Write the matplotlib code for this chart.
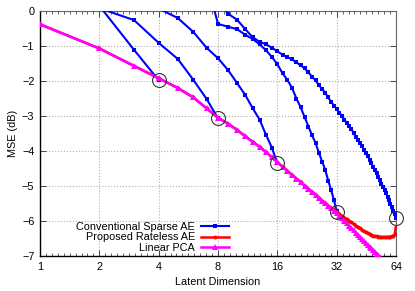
import matplotlib
matplotlib.use('Agg')
import matplotlib.pyplot as plt
from matplotlib.ticker import FixedLocator, NullFormatter

plt.rcParams['font.family'] = ['Liberation Sans', 'DejaVu Sans']
plt.rcParams['font.size'] = 7.8

# Linear PCA, dims 1..64
pca_dims = list(range(1, 65))
pca_mse = [-0.38, -1.07, -1.57, -1.92, -2.20, -2.47, -2.78, -3.05, -3.22, -3.40,
           -3.58, -3.74, -3.88, -4.03, -4.18, -4.32, -4.45, -4.57, -4.68, -4.79,
           -4.89, -4.99, -5.08, -5.17, -5.25, -5.34, -5.42, -5.49, -5.57, -5.64,
           -5.70, -5.77, -5.85, -5.92, -5.99, -6.06, -6.13, -6.20, -6.26, -6.33,
           -6.39, -6.45, -6.51, -6.57, -6.62, -6.68, -6.73, -6.78, -6.83, -6.88,
           -6.93, -6.98, -7.03, -7.08, -7.12, -7.16, -7.20, -7.24, -7.28, -7.32,
           -7.36, -7.40, -7.44, -7.48]

# Proposed rateless AE, dims 1..64
rl_dims = list(range(1, 65))
rl_mse = [-0.38, -1.07, -1.57, -1.92, -2.20, -2.47, -2.78, -3.05, -3.22, -3.40,
          -3.58, -3.74, -3.88, -4.03, -4.18, -4.32, -4.45, -4.57, -4.68, -4.79,
          -4.89, -4.99, -5.08, -5.17, -5.25, -5.34, -5.42, -5.49, -5.56, -5.62,
          -5.67, -5.73, -5.79, -5.85, -5.90, -5.95, -6.00, -6.04, -6.08, -6.13,
          -6.17, -6.21, -6.25, -6.29, -6.32, -6.35, -6.38, -6.40, -6.42, -6.43,
          -6.44, -6.45, -6.45, -6.46, -6.46, -6.46, -6.46, -6.46, -6.45, -6.45,
          -6.44, -6.42, -6.38, -6.17]

# Conventional sparse AE, one curve per trained dimension
ae4_dims = [2, 3, 4]
ae4_mse = [0.15, -1.11, -1.98]

ae8_dims = [2, 3, 4, 5, 6, 7, 8]
ae8_mse = [0.08, -0.26, -0.91, -1.37, -1.97, -2.51, -3.07]

ae16_dims = list(range(4, 17))
ae16_mse = [0.07, -0.20, -0.60, -1.05, -1.35, -1.69, -2.06, -2.40, -2.78, -3.10,
            -3.53, -3.90, -4.35]

ae32_dims = list(range(7, 33))
ae32_mse = [0.86, -0.37, -0.45, -0.52, -0.68, -0.80, -0.95, -1.12, -1.31, -1.52,
            -1.78, -1.97, -2.20, -2.50, -2.75, -3.03, -3.30, -3.55, -3.77, -4.05,
            -4.30, -4.54, -4.85, -5.12, -5.40, -5.72]

ae64_dims = list(range(8, 65))
ae64_mse = [0.30, -0.08, -0.25, -0.52, -0.75, -0.88, -0.95, -1.05, -1.15, -1.25,
            -1.32, -1.38, -1.47, -1.55, -1.64, -1.75, -1.88, -1.98, -2.12, -2.23,
            -2.34, -2.47, -2.60, -2.70, -2.80, -2.90, -3.00, -3.10, -3.20, -3.28,
            -3.38, -3.48, -3.60, -3.68, -3.76, -3.86, -3.96, -4.06, -4.15, -4.25,
            -4.35, -4.45, -4.55, -4.64, -4.74, -4.84, -4.93, -5.02, -5.10, -5.20,
            -5.30, -5.40, -5.50, -5.60, -5.70, -5.80, -5.91]

# trained points (circled)
mark_dims = [4, 8, 16, 32, 64]
mark_mse = [-1.98, -3.07, -4.35, -5.73, -5.91]

xticks = [1, 2, 4, 8, 16, 32, 64]
yticks = [0, -1, -2, -3, -4, -5, -6, -7]

fig = plt.figure(figsize=(4.15, 2.91), dpi=100)
ax = fig.add_axes([40 / 415, 1 - 256 / 291, 356 / 415, 245 / 291])

blue = '#0000ff'
first = True
for d, m in [(ae4_dims, ae4_mse), (ae8_dims, ae8_mse), (ae16_dims, ae16_mse),
             (ae32_dims, ae32_mse), (ae64_dims, ae64_mse)]:
    ax.plot(d, m, color=blue, lw=1.5, marker='s', ms=3.2, mew=0,
            label='Conventional Sparse AE' if first else None, zorder=3)
    first = False

ax.plot(rl_dims, rl_mse, color='#ff0000', lw=1.8, marker='o', ms=2.8, mew=0,
        label='Proposed Rateless AE', zorder=4)
ax.plot(pca_dims, pca_mse, color='#ff00ff', lw=1.8, marker='^', ms=4.8, mew=0,
        label='Linear PCA', zorder=5)

ax.plot(mark_dims, mark_mse, ls='none', marker='o', ms=10, mfc='none',
        mec='#333333', mew=0.8, zorder=6, clip_on=False)

ax.set_xscale('log', base=2)
ax.set_xlim(1, 64)
ax.set_ylim(-7, 0)
ax.xaxis.set_major_locator(FixedLocator(xticks))
ax.set_xticklabels([str(t) for t in xticks])
minors = [2 ** (k / 10) for k in range(0, 61) if k % 10 != 0]
ax.xaxis.set_minor_locator(FixedLocator(minors))
ax.xaxis.set_minor_formatter(NullFormatter())
ax.set_yticks(yticks)

ax.tick_params(which='both', direction='in', top=True, right=True, color='#444444')
ax.tick_params(which='major', length=4, width=0.7, pad=4)
ax.tick_params(which='minor', length=2, width=0.6)
ax.grid(True, which='major', color='#b0b0b0', ls=':', lw=0.8)

for s in ['top', 'right']:
    ax.spines[s].set_color('#666666')
    ax.spines[s].set_linewidth(0.8)
for s in ['left', 'bottom']:
    ax.spines[s].set_color('black')
    ax.spines[s].set_linewidth(1.0)

ax.set_xlabel('Latent Dimension', labelpad=4)
ax.set_ylabel('MSE (dB)', labelpad=3)

ax.legend(loc='lower right', bbox_to_anchor=(229 / 415, 1 - 253 / 291),
          bbox_transform=fig.transFigure, frameon=False, markerfirst=False,
          handlelength=2.6, handletextpad=0.55, labelspacing=0.05, borderpad=0,
          borderaxespad=0)

plt.savefig('out.png', dpi=100)
